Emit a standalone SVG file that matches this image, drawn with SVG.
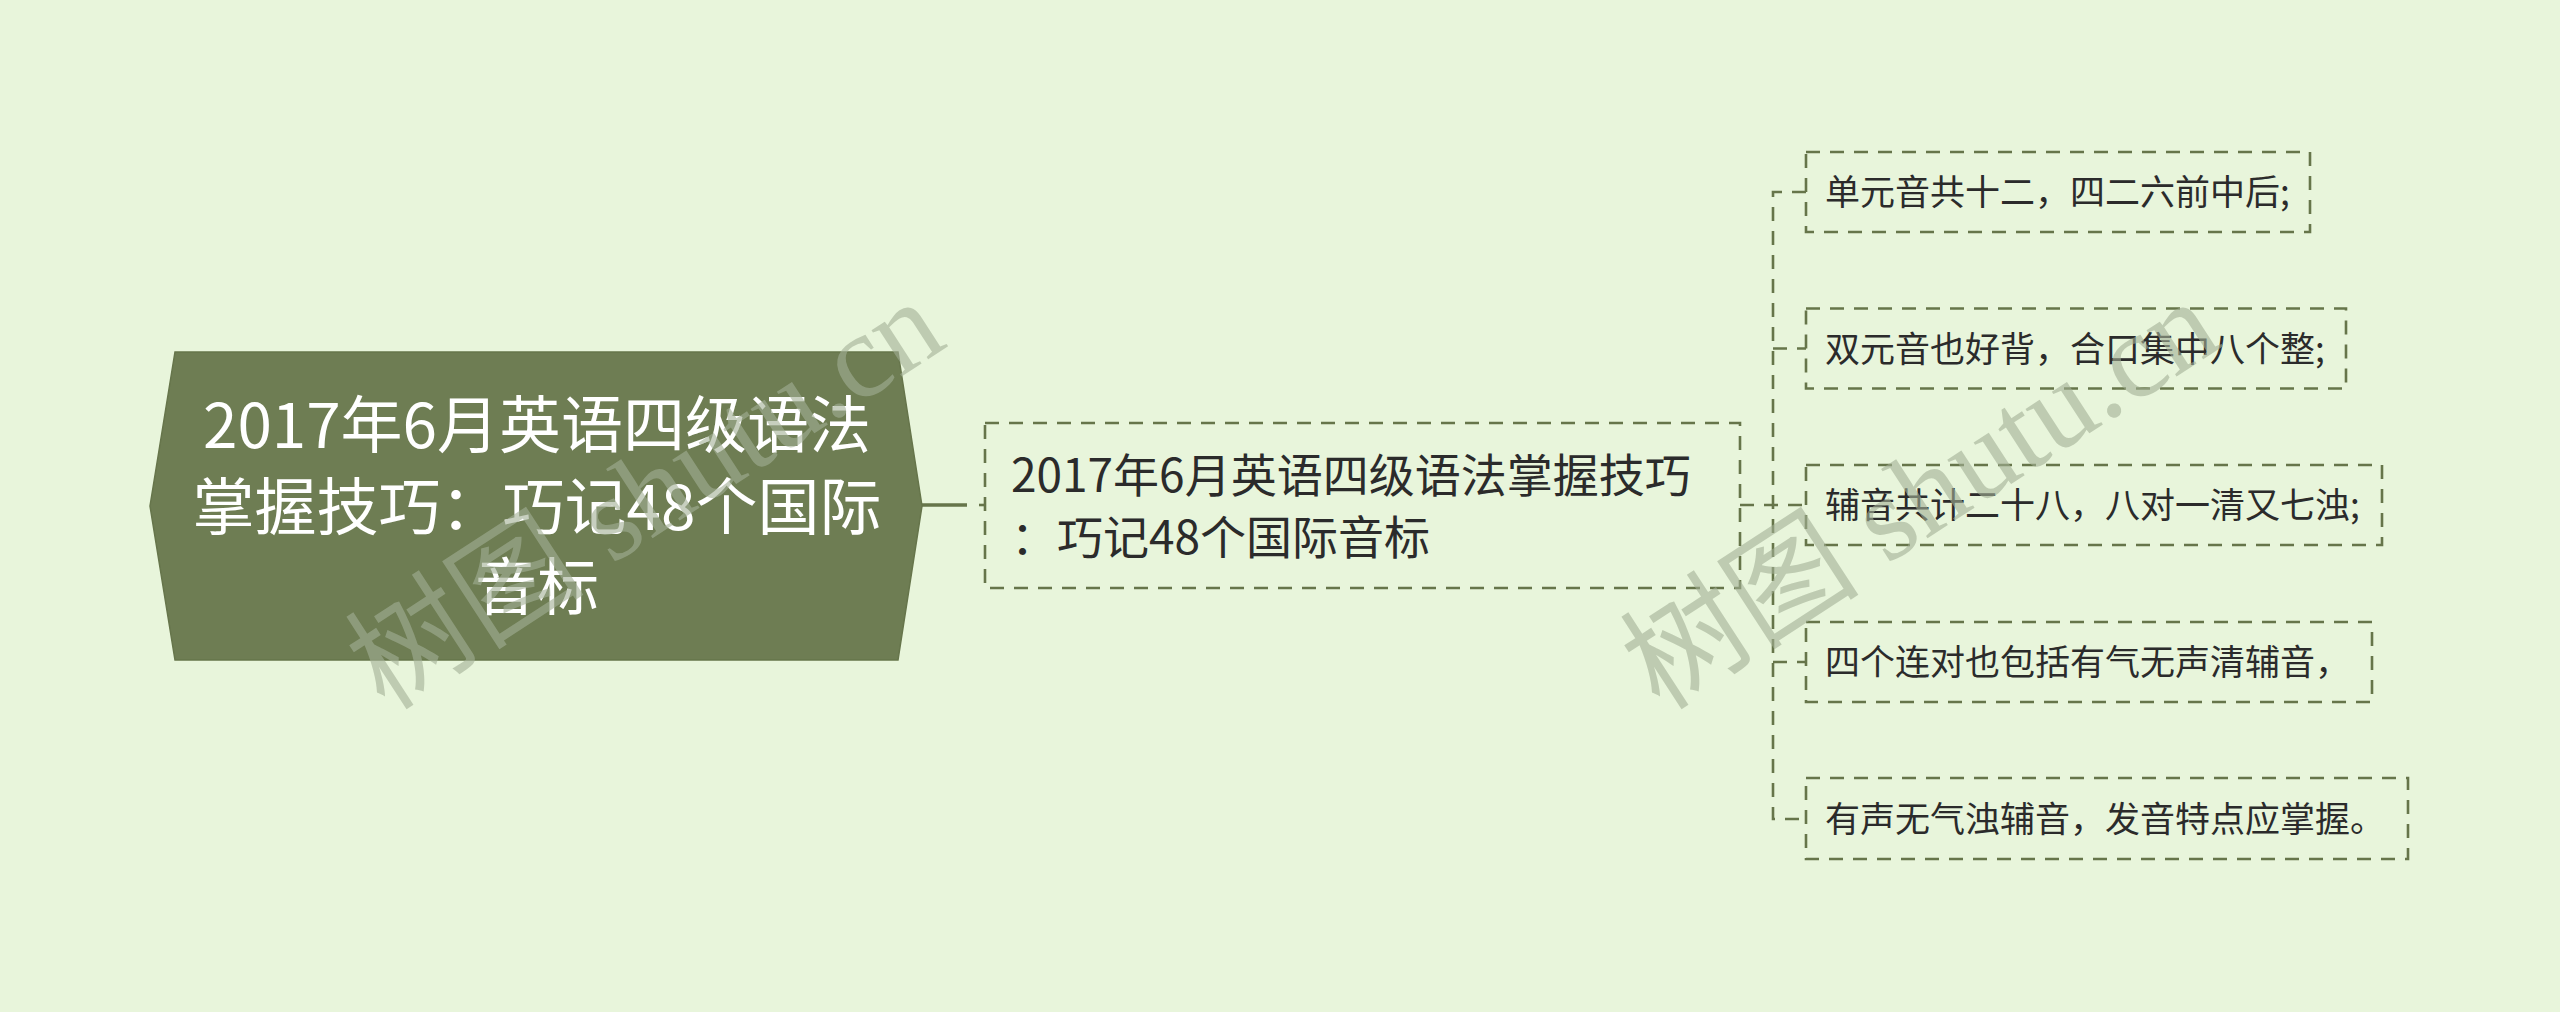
<svg xmlns="http://www.w3.org/2000/svg" width="2560" height="1012" viewBox="0 0 2560 1012">
<style>
.bg{fill:#e8f5db}
.root{fill:#6e7d53;stroke:#66754b;stroke-width:1.5}
.rtxt{font-family:"Noto Sans CJK SC","Noto Sans",sans-serif;font-size:62px;fill:#ffffff;text-anchor:middle}
.box{fill:none;stroke:#66754a;stroke-width:2.6;stroke-dasharray:14 10}
.t2{font-family:"Noto Sans CJK SC","Noto Sans",sans-serif;font-size:46px;fill:#2b2b2b}
.t3{font-family:"Noto Sans CJK SC","Noto Sans",sans-serif;font-size:35px;fill:#2b2b2b}
.dash{fill:none;stroke:#66754a;stroke-width:2.6;stroke-dasharray:14 10}
.solid{fill:none;stroke:#66754a;stroke-width:3.5}
.wm{font-family:"Liberation Serif","Noto Sans CJK SC",serif;font-size:120px;fill:#a3b096;opacity:0.6}
</style>
<rect class="bg" x="0" y="0" width="2560" height="1012"/>
<g id="connectors">
<path class="solid" d="M922 505 H967"/>
<path class="dash" d="M979 505 H985"/>
<path class="dash" d="M1740 505 H1806"/>
<path class="dash" d="M1806 192 H1773 V819 H1806"/>
<path class="dash" d="M1773 348.5 H1806"/>
<path class="dash" d="M1773 662 H1806"/>
</g>
<g id="root">
<polygon class="root" points="150,506 175,352 898,352 922,506 898,660 175,660"/>
<text class="rtxt" x="537" y="448">2017年6月英语四级语法</text>
<text class="rtxt" x="537" y="530">掌握技巧：巧记48个国际</text>
<text class="rtxt" x="537" y="610">音标</text>
</g>
<g id="node-main">
<rect class="box" x="985" y="423" width="755" height="165"/>
<text class="t2" x="1011" y="492">2017年6月英语四级语法掌握技巧</text>
<text class="t2" x="1011" y="554">：巧记48个国际音标</text>
</g>
<g id="node-1">
<rect class="box" x="1806" y="152" width="504" height="80"/>
<text class="t3" x="1825" y="205">单元音共十二，四二六前中后;</text>
</g>
<g id="node-2">
<rect class="box" x="1806" y="308.5" width="540" height="80"/>
<text class="t3" x="1825" y="361.5">双元音也好背，合口集中八个整;</text>
</g>
<g id="node-3">
<rect class="box" x="1806" y="465" width="576" height="80"/>
<text class="t3" x="1825" y="518">辅音共计二十八，八对一清又七浊;</text>
</g>
<g id="node-4">
<rect class="box" x="1806" y="622" width="566" height="80"/>
<text class="t3" x="1825" y="675">四个连对也包括有气无声清辅音，</text>
</g>
<g id="node-5">
<rect class="box" x="1806" y="778" width="602" height="81"/>
<text class="t3" x="1825" y="831.5">有声无气浊辅音，发音特点应掌握。</text>
</g>
<g id="watermarks">
<text class="wm" transform="translate(385,712) rotate(-33)">树图 shutu.cn</text>
<text class="wm" transform="translate(1660,712) rotate(-33)">树图 shutu.cn</text>
</g>
</svg>
